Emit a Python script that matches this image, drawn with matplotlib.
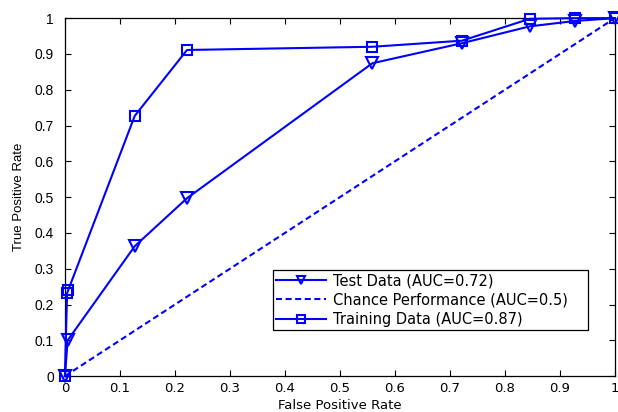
import matplotlib
matplotlib.use("Agg")
import matplotlib.pyplot as plt

test_fpr = [0.0, 0.005, 0.127, 0.222, 0.559, 0.722, 0.845, 0.927, 1.0]
test_tpr = [0.0, 0.100, 0.363, 0.497, 0.874, 0.930, 0.977, 0.992, 1.0]

chance_fpr = [0.0, 1.0]
chance_tpr = [0.0, 1.0]

train_fpr = [0.0, 0.004, 0.006, 0.127, 0.222, 0.559, 0.722, 0.845, 0.927, 1.0]
train_tpr = [0.0, 0.232, 0.240, 0.727, 0.911, 0.920, 0.937, 0.998, 1.0, 1.0]

labels = ['Test Data (AUC=0.72)', 'Chance Performance (AUC=0.5)', 'Training Data (AUC=0.87)']
xticks = [0, 0.1, 0.2, 0.3, 0.4, 0.5, 0.6, 0.7, 0.8, 0.9, 1]
yticks = [0, 0.1, 0.2, 0.3, 0.4, 0.5, 0.6, 0.7, 0.8, 0.9, 1]
tick_labels = ['0', '0.1', '0.2', '0.3', '0.4', '0.5', '0.6', '0.7', '0.8', '0.9', '1']

wide = ['DejaVu Sans']
narrow = ['Liberation Sans', 'DejaVu Sans']

fig = plt.figure(figsize=(6.18, 4.12), dpi=100)
ax = fig.add_axes([0.105, 0.087, 0.89, 0.869])

blue = '#0000ff'
ax.plot(test_fpr, test_tpr, '-v', color=blue, lw=1.5, ms=8, mfc='none', mew=1.5,
        label=labels[0], clip_on=False, zorder=3)
ax.plot(chance_fpr, chance_tpr, '--', color=blue, lw=1.5, dashes=(2.9, 1.7),
        label=labels[1], zorder=2)
ax.plot(train_fpr, train_tpr, '-s', color=blue, lw=1.5, ms=7, mfc='none', mew=1.5,
        label=labels[2], clip_on=False, zorder=3)

ax.set_xlim(0, 1)
ax.set_ylim(0, 1)
ax.set_xticks(xticks)
ax.set_xticklabels(tick_labels, fontfamily=wide, fontsize=9.5)
ax.set_yticks(yticks)
ax.set_yticklabels(tick_labels, fontfamily=narrow, fontsize=10)
ax.tick_params(direction='in', top=True, right=True, length=4, width=0.8)
ax.tick_params(axis='x', pad=4)
ax.tick_params(axis='y', pad=8)
for s in ax.spines.values():
    s.set_linewidth(0.9)

ax.set_xlabel('False Positive Rate', fontsize=9.5, fontfamily=wide)
ax.set_ylabel('True Positive Rate', fontsize=9.5, fontfamily=narrow)
ax.xaxis.set_label_coords(0.5, -0.063)
ax.yaxis.set_label_coords(-0.072, 0.5)

leg = ax.legend(loc='lower left', bbox_to_anchor=(0.378, 0.128, 0.573, 0.174), mode='expand',
                fancybox=False, edgecolor='black', prop={'family': wide, 'size': 10.5},
                handlelength=3.4, handletextpad=0.5, markerscale=0.75,
                borderaxespad=0, labelspacing=0.28, borderpad=0.25, framealpha=1)
leg.get_frame().set_linewidth(0.9)

fig.savefig('out.png', dpi=100)
